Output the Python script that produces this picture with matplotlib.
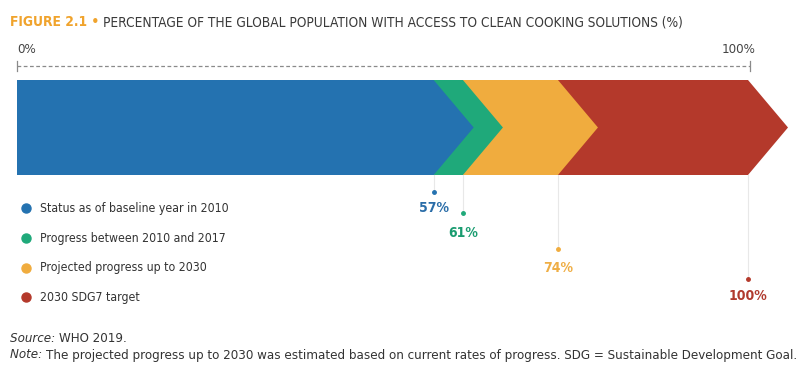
import matplotlib.pyplot as plt
from matplotlib.patches import Polygon

# data
series = ["Status as of baseline year in 2010",
          "Progress between 2010 and 2017",
          "Projected progress up to 2030",
          "2030 SDG7 target"]
values = [57, 61, 74, 100]
colors = ["#2472B0", "#1FA97A", "#F0AC3E", "#B4392B"]
label_colors = ["#2A6DA8", "#1A9C70", "#EFAE45", "#B03A2E"]

plt.rcParams['font.family'] = ["DejaVu Sans"]
plt.rcParams['font.stretch'] = 'condensed'

W, H = 800, 374
fig = plt.figure(figsize=(8, 3.74), dpi=100)
ax = fig.add_axes([0, 0, 1, 1])

# x in percent, y in pixels (top = 0)
px_per = 7.31
x0_px = 17
ax.set_xlim(-x0_px / px_per, (W - x0_px) / px_per)
ax.set_ylim(H, 0)
ax.axis('off')


def px(x):
    return (x - x0_px) / px_per


top, bot = 80, 175
mid = (top + bot) / 2
depth = 40 / px_per

# chevrons, drawn back to front
for v, c in sorted(zip(values, colors), reverse=True):
    pts = [(0, top), (v, top), (v + depth, mid), (v, bot), (0, bot)]
    ax.add_patch(Polygon(pts, closed=True, facecolor=c, edgecolor='none'))

# ruler
ax.plot([0, 100.3], [66, 66], ls=(0, (3, 2)), color="#8a8a8a", lw=0.9)
ax.plot([0, 0], [61, 71], color="#8a8a8a", lw=0.9)
ax.plot([100.3, 100.3], [61, 71], color="#8a8a8a", lw=0.9)
ax.text(0, 49, "0%", fontsize=9.5, color="#444444", ha='left', va='center')
ax.text(px(756), 49, "100%", fontsize=9.5, color="#444444", ha='right', va='center')

# leader lines, dots and value labels
dot_y = [192, 213, 249, 279]
lab_y = [208, 233, 268, 296]
for v, c, lc, dy, ly in zip(values, colors, label_colors, dot_y, lab_y):
    ax.plot([v, v], [bot, dy], color="#e8e8e8", lw=0.8, zorder=1)
    ax.plot(v, dy, 'o', ms=2.5, color=c, zorder=2)
    ax.text(v, ly, f"{v}%", fontsize=10, fontweight='bold', color=lc,
            ha='center', va='center')

# legend
leg_y = [208, 238, 268, 297]
for name, c, ly in zip(series, colors, leg_y):
    ax.plot(px(26), ly, 'o', ms=6.5, color=c)
    ax.text(px(40), ly, name, fontsize=8.8, color="#333333",
            ha='left', va='center')

renderer = fig.canvas.get_renderer()


def after(t, y, s, **kw):
    # put text s right after text t, on line y (pixels from top)
    r = t.get_window_extent(renderer=renderer)
    return fig.text(r.x1 / W, 1 - y / H, s, va='center', **kw)


# title
t1 = fig.text(10 / W, 1 - 22 / H, "FIGURE 2.1 \u2022 ", fontsize=9.9,
              fontweight='bold', color="#F0A32C", va='center')
after(t1, 22, "PERCENTAGE OF THE GLOBAL POPULATION WITH ACCESS TO CLEAN COOKING SOLUTIONS (%)",
      fontsize=9.8, color="#3a3a3a")

# footer
s1 = fig.text(10 / W, 1 - 339 / H, "Source: ", fontsize=9.5, style='italic',
              color="#333333", va='center')
after(s1, 339, "WHO 2019.", fontsize=9.5, color="#333333")
n1 = fig.text(10 / W, 1 - 355 / H, "Note: ", fontsize=9.5, style='italic',
              color="#333333", va='center')
after(n1, 355, "The projected progress up to 2030 was estimated based on current rates of progress. "
      "SDG = Sustainable Development Goal.", fontsize=9.5, color="#333333")

fig.savefig("out.png", dpi=100, facecolor='white')
